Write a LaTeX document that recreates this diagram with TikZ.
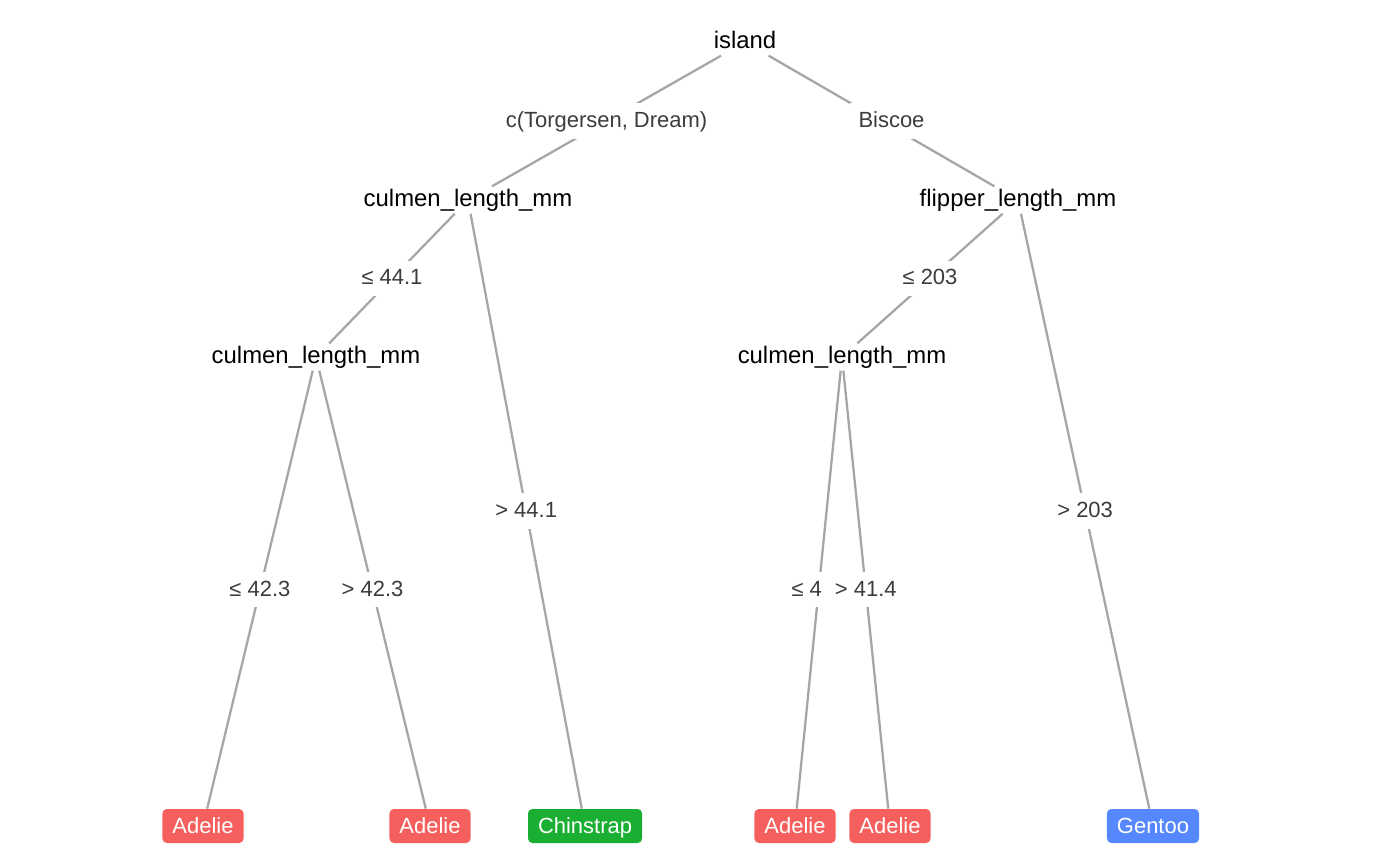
\documentclass[tikz,border=0pt]{standalone}
\usepackage{fontspec}
\setmainfont{Liberation Sans}
\usepackage{xcolor}
\usepackage{tikz}

\definecolor{edgegray}{HTML}{A6A6A6}
\definecolor{labelgray}{HTML}{3C3C3C}
\definecolor{adeliered}{HTML}{F5605E}
\definecolor{chinstrapgreen}{HTML}{1AAF32}
\definecolor{gentooblue}{HTML}{5588FF}

\begin{document}
\begin{tikzpicture}[x=0.02cm,y=-0.02cm,
    split/.style={font=\fontsize{13.6}{16}\selectfont, inner xsep=4pt, inner ysep=4pt,
        text height=0.72em, text depth=0pt},
    leaf/.style={rounded corners=2.5pt, text=white, font=\fontsize{12.5}{15}\selectfont,
        inner xsep=0.2cm, inner ysep=0pt, minimum height=0.68cm,
        text height=0.9em, text depth=0pt},
    cond/.style={fill=white, text=labelgray, font=\fontsize{12.5}{15}\selectfont,
        inner xsep=5pt, inner ysep=6.5pt, text height=0.72em, text depth=0pt},
    edge/.style={draw=edgegray, line width=1.3pt}]
    \useasboundingbox (0,0) rectangle (1400,866);

    % Nodes
    \node[split] (island) at (745,42) {island};
    \node[split] (cl1) at (468,200) {culmen\_length\_mm};
    \node[split] (fl) at (1018,200) {flipper\_length\_mm};
    \node[split] (cl2) at (316,357) {culmen\_length\_mm};
    \node[split] (cl3) at (842,357) {culmen\_length\_mm};
    \node[leaf, fill=adeliered] (a1) at (203,826) {Adelie};
    \node[leaf, fill=adeliered] (a2) at (430,826) {Adelie};
    \node[leaf, fill=chinstrapgreen] (ch) at (585,826) {Chinstrap};
    \node[leaf, fill=adeliered] (a3) at (795,826) {Adelie};
    \node[leaf, fill=adeliered] (a4) at (890,826) {Adelie};
    \node[leaf, fill=gentooblue] (ge) at (1153,826) {Gentoo};

    % Edges
    \path[edge]
        (island) -- node[cond] {c(Torgersen, Dream)} (cl1)
        (island) -- node[cond, xshift=0.2cm] {Biscoe} (fl)
        (cl1) -- node[cond] {≤ 44.1} (cl2)
        (cl1) -- node[cond] {> 44.1} (ch)
        (fl) -- node[cond] {≤ 203} (cl3)
        (fl) -- node[cond] {> 203} (ge)
        (cl2) -- node[cond] {≤ 42.3} (a1)
        (cl2) -- node[cond] {> 42.3} (a2)
        (cl3) -- node[cond, xshift=-0.24cm] {≤ 4} (a3)
        (cl3) -- node[cond] {> 41.4} (a4);
\end{tikzpicture}
\end{document}
